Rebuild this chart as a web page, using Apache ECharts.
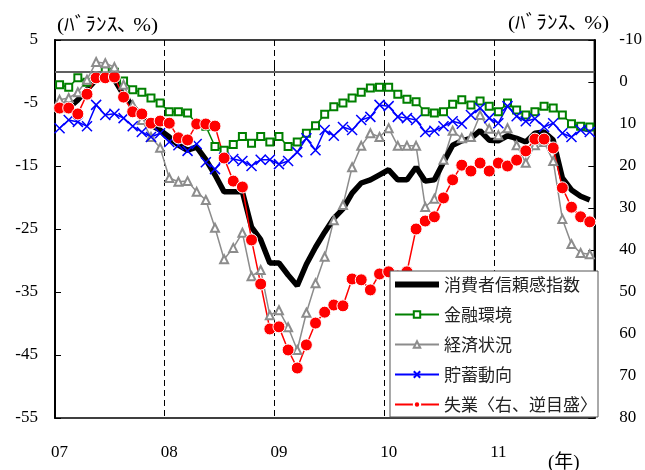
<!DOCTYPE html>
<html><head><meta charset="utf-8">
<script src="https://cdn.jsdelivr.net/npm/echarts@6/dist/echarts.min.js"></script>
<style>html,body{margin:0;padding:0;background:#fff}#c{width:645px;height:470px}</style>
</head><body><div id="c"></div>
<script>
// ---- data ----
const yearLabels = ['07', '08', '09', '10', '11'];
const months = [];
for (let y = 2007; y <= 2011; y++) {
  for (let m = 1; m <= 12; m++) {
    if (y === 2011 && m > 11) break;
    months.push(y + '-' + (m < 10 ? '0' + m : m));
  }
}
const confidence = [-6.3,-5.8,-4.5,-2.9,-1.3,-1.0,-1.3,-3.7,-5.5,-7.2,-8.5,-9.3,
 -10.4,-11.7,-12.5,-12.0,-14.0,-16.4,-19.1,-19.1,-19.1,-24.7,-26.7,-30.4,
 -30.4,-32.3,-34.0,-30.6,-27.9,-25.5,-23.3,-21.8,-19.3,-17.7,-17.2,-16.4,
 -15.6,-17.2,-17.2,-15.2,-17.4,-17.2,-14.4,-11.7,-11.0,-10.6,-9.4,-10.9,
 -11.0,-10.2,-10.6,-11.2,-9.8,-9.6,-10.9,-16.9,-18.8,-19.8,-20.4];
const financial = [-2.1,-2.5,-1.0,-1.7,-1.0,0.1,-0.1,-1.5,-2.9,-3.3,-4.2,-5.0,
 -6.4,-6.4,-6.6,-8.3,-8.7,-11.9,-12.5,-11.6,-10.3,-11.4,-10.3,-11.2,
 -10.3,-11.9,-11.2,-9.8,-8.6,-6.8,-5.6,-5.0,-4.2,-3.3,-2.6,-2.5,
 -2.5,-3.6,-4.4,-4.8,-6.4,-6.6,-6.4,-5.2,-4.5,-5.3,-4.7,-5.5,
 -6.4,-5.0,-6.1,-6.9,-6.4,-5.5,-5.8,-6.9,-8.3,-8.7,-8.8];
const economy = [-4.5,-4.2,-3.3,-1.3,1.5,1.3,0.7,-2.1,-5.3,-7.7,-10.4,-12.1,
 -16.9,-17.5,-17.4,-19.1,-20.4,-24.8,-29.8,-28.0,-25.6,-32.5,-31.5,-38.7,
 -37.9,-40.6,-44.2,-38.3,-33.6,-29.4,-23.6,-21.2,-15.2,-11.8,-9.8,-10.4,
 -9.0,-11.8,-11.8,-11.8,-21.5,-20.2,-14.0,-9.4,-10.6,-10.4,-6.9,-9.1,
 -10.1,-9.0,-11.7,-14.5,-11.7,-11.2,-14.2,-23.4,-27.4,-28.8,-29.0];
const savings = [-9.0,-7.7,-8.0,-8.7,-5.3,-6.9,-6.7,-7.4,-8.7,-9.6,-10.4,-9.8,
 -11.2,-11.7,-12.6,-11.5,-14.4,-15.5,-13.7,-13.9,-14.2,-15.0,-14.0,-14.0,
 -14.7,-14.2,-12.8,-10.6,-12.5,-9.3,-10.2,-8.8,-9.3,-7.7,-7.2,-5.3,
 -5.5,-7.2,-7.4,-7.7,-9.6,-9.4,-8.7,-7.9,-8.3,-6.9,-5.8,-7.4,
 -8.2,-5.5,-7.1,-7.9,-7.5,-8.8,-8.2,-9.8,-10.4,-9.3,-9.6];
const unemployment = [6.2,6.2,7.6,2.9,-1.0,-1.0,-1.2,3.6,7.1,7.6,9.8,9.3,
 9.8,13.3,13.8,10.0,10.0,10.5,18.1,23.6,25.0,37.6,48.1,58.8,
 58.3,63.8,68.1,62.6,57.4,54.8,53.1,53.3,46.9,47.1,49.5,45.7,
 45.2,46.2,45.2,35.0,33.1,32.1,27.6,23.3,19.8,21.2,19.3,21.2,
 19.3,20.0,18.6,16.4,13.6,13.6,15.7,25.2,29.8,32.1,33.3];

const names = ['消費者信頼感指数', '金融環境', '経済状況', '貯蓄動向', '失業〈右、逆目盛〉'];

const numFont = 'Liberation Serif';
const jpFont = 'Noto Sans CJK JP';
const titleFont = '19px "Liberation Serif", "Noto Sans CJK JP"';
const xPath = 'path://M0,0L10,10M10,0L0,10';
const yearTick = (i) => i % 12 === 0;

const chart = echarts.init(document.getElementById('c'), null, {renderer: 'canvas'});
chart.setOption({
  animation: false,
  backgroundColor: '#fff',
  grid: {left: 55, right: 47, top: 40, bottom: 52, show: true, borderColor: '#000', borderWidth: 1.5, backgroundColor: 'transparent'},
  xAxis: {
    type: 'category', data: months, boundaryGap: true,
    axisLine: {lineStyle: {color: '#000', width: 2}},
    axisTick: {show: true, inside: true, length: 6, interval: yearTick, lineStyle: {color: '#000', width: 1}},
    axisLabel: {interval: yearTick, formatter: (v, i) => yearLabels[Math.floor(i / 12)], margin: 26,
      fontSize: 17, fontFamily: numFont, color: '#000'},
    splitLine: {show: true, interval: (i) => i % 12 === 0 && i > 0, lineStyle: {type: [6, 4], color: '#000', width: 1}}
  },
  yAxis: [
    {type: 'value', min: -55, max: 5, interval: 10, position: 'left',
      axisLine: {show: true, lineStyle: {color: '#000', width: 2}},
      axisTick: {show: true, inside: true, length: 6, lineStyle: {color: '#000'}},
      axisLabel: {fontSize: 17, fontFamily: numFont, color: '#000', margin: 17},
      splitLine: {show: false}},
    {type: 'value', min: -10, max: 80, interval: 10, position: 'right', inverse: true,
      axisLine: {show: true, lineStyle: {color: '#000', width: 2}},
      axisTick: {show: true, inside: true, length: 6, lineStyle: {color: '#000'}},
      axisLabel: {fontSize: 17, fontFamily: numFont, color: '#000', margin: 25},
      splitLine: {show: false}}
  ],
  legend: {
    orient: 'vertical', right: 47, top: 271, itemWidth: 44, itemHeight: 8, itemGap: 13,
    backgroundColor: '#fff', borderColor: '#555', borderWidth: 1, padding: [5, 1, 4, 2],
    textStyle: {fontSize: 17, fontFamily: jpFont, color: '#222'},
    data: [{name: names[0], lineStyle: {width: 6}, itemStyle: {opacity: 0}}, names[1], names[2], names[3], names[4]]
  },
  graphic: [
    {type: 'text', x: 57, y: 26, scaleX: 1.12, style: {text: '(ﾊﾞﾗﾝｽ､ %)', font: titleFont, fill: '#000', verticalAlign: 'middle'}},
    {type: 'text', x: 508, y: 24, scaleX: 1.12, style: {text: '(ﾊﾞﾗﾝｽ､ %)', font: titleFont, fill: '#000', verticalAlign: 'middle'}},
    {type: 'text', x: 548, y: 463, style: {text: '(年)', font: titleFont, fill: '#000', verticalAlign: 'middle'}}
  ],
  series: [
    {name: names[1], type: 'line', data: financial, yAxisIndex: 0,
      symbol: 'emptyRect', symbolSize: 7, showAllSymbol: true,
      lineStyle: {color: '#008000', width: 1.5}, itemStyle: {color: '#008000', borderWidth: 1.3},
      markLine: {silent: true, symbol: ['none', 'none'], label: {show: false},
        lineStyle: {color: '#808080', width: 1.5, type: 'solid'}, data: [{yAxis: 0}]}},
    {name: names[2], type: 'line', data: economy, yAxisIndex: 0,
      symbol: 'emptyTriangle', symbolSize: 8, showAllSymbol: true,
      lineStyle: {color: '#8c8c8c', width: 1.5}, itemStyle: {color: '#8c8c8c', borderWidth: 1.2}},
    {name: names[3], type: 'line', data: savings, yAxisIndex: 0,
      symbol: xPath, symbolSize: 10, showAllSymbol: true,
      lineStyle: {color: '#0000ff', width: 1.5}, itemStyle: {color: '#0000ff', borderColor: '#0000ff', borderWidth: 1.5}},
    {name: names[0], type: 'line', data: confidence, yAxisIndex: 0,
      showSymbol: false, symbol: 'none',
      lineStyle: {color: '#000', width: 5.5}, itemStyle: {color: '#000'}},
    {name: names[4], type: 'line', data: unemployment, yAxisIndex: 1,
      symbol: 'circle', symbolSize: 12, showAllSymbol: true,
      lineStyle: {color: '#ff0000', width: 1.5}, itemStyle: {color: '#ff0000', borderColor: '#fff', borderWidth: 1}}
  ]
});
</script></body></html>
